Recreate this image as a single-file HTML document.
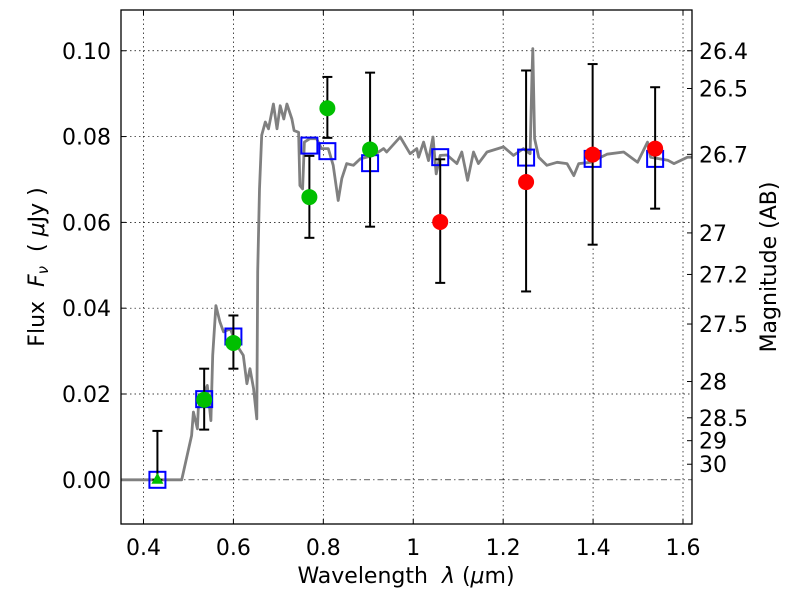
<!DOCTYPE html>
<html><head><meta charset="utf-8"><style>
body{margin:0;background:#fff}
svg{display:block;font-family:"DejaVu Sans","Liberation Sans",sans-serif}
text{white-space:pre}
</style></head><body>
<svg id="chart" width="800" height="600" viewBox="0 0 800 600" xmlns="http://www.w3.org/2000/svg"></svg>
<script>
const xTicks=[0.4,0.6,0.8,1.0,1.2,1.4,1.6];
const xTickLabels=["0.4","0.6","0.8","1","1.2","1.4","1.6"];
const yTicks=[0,0.02,0.04,0.06,0.08,0.10];
const yTickLabels=["0.00","0.02","0.04","0.06","0.08","0.10"];
const magTicks=[26.4,26.5,26.7,27,27.2,27.5,28,28.5,29,30];
const magLabels=["26.4","26.5","26.7","27","27.2","27.5","28","28.5","29","30"];
const specLam=[0.35,0.485,0.507,0.511,0.520,0.522,0.532,0.542,0.550,0.554,0.561,0.570,0.578,0.593,0.608,0.622,0.630,0.637,0.645,0.652,0.654,0.658,0.663,0.671,0.678,0.689,0.697,0.704,0.712,0.719,0.730,0.735,0.745,0.748,0.754,0.758,0.770,0.785,0.796,0.811,0.822,0.833,0.841,0.852,0.867,0.882,0.911,0.934,0.941,0.971,0.993,1.008,1.012,1.023,1.034,1.044,1.051,1.060,1.075,1.097,1.108,1.121,1.134,1.145,1.164,1.201,1.223,1.245,1.260,1.264,1.266,1.270,1.279,1.297,1.320,1.342,1.357,1.368,1.394,1.431,1.468,1.499,1.521,1.528,1.566,1.580,1.610,1.62];
const specFlux=[0,0,0.0103,0.0158,0.0119,0.0166,0.0197,0.022,0.0138,0.029,0.0406,0.0368,0.0345,0.0352,0.0313,0.029,0.0224,0.0259,0.0212,0.0142,0.0485,0.0678,0.0803,0.0834,0.0818,0.0876,0.0818,0.0872,0.0841,0.0876,0.0841,0.0814,0.081,0.0686,0.0678,0.0787,0.0795,0.0795,0.0772,0.0772,0.0733,0.0651,0.0702,0.0737,0.0733,0.0748,0.0756,0.0772,0.0764,0.0799,0.076,0.0772,0.0752,0.0787,0.0744,0.0799,0.0713,0.0756,0.0757,0.0737,0.0764,0.0698,0.0764,0.0737,0.0764,0.0776,0.0756,0.0772,0.076,0.0935,0.1005,0.0795,0.0752,0.0733,0.074,0.0737,0.0709,0.0737,0.074,0.0759,0.0764,0.074,0.0787,0.0752,0.0745,0.0737,0.0752,0.0752];
const obsLam=[0.431,0.535,0.600,0.769,0.809,0.904,1.060,1.251,1.399,1.538];
const obsFlux=[0,0.01865,0.0319,0.0659,0.0866,0.0770,0.0601,0.0694,0.0758,0.0772];
const errHigh=[0.0114,0.0259,0.0383,0.0755,0.0939,0.0949,0.0747,0.0954,0.0969,0.0915];
const errLow=[0,0.0117,0.0259,0.0564,0.0797,0.0590,0.0459,0.0439,0.0548,0.0632];
const obsColor=["green","green","green","green","green","green","red","red","red","red"];
const modelFlux=[0,0.0188,0.0334,0.0779,0.0766,0.0738,0.0752,0.0751,0.0748,0.0748];

const L=121,R=692,T=10,B=524,X0=0.35,X1=1.62,Y0=-0.0103,Y1=0.1095;
const sx=v=>L+(v-X0)/(X1-X0)*(R-L);
const sy=v=>B-(v-Y0)/(Y1-Y0)*(B-T);
const svg=document.getElementById('chart');const NS="http://www.w3.org/2000/svg";
function mk(t,a,p){const e=document.createElementNS(NS,t);for(const k in a)e.setAttribute(k,a[k]);(p||svg).appendChild(e);return e;}
xTicks.forEach((v,i)=>{const g=mk('line',{x1:sx(v),x2:sx(v),y1:T,y2:B,stroke:'#000','stroke-width':0.7,'stroke-dasharray':'1.5,3'});


mk('line',{x1:sx(v),x2:sx(v),y1:B,y2:B-5,stroke:'#000'});mk('line',{x1:sx(v),x2:sx(v),y1:T,y2:T+5,stroke:'#000'});
const t=mk('text',{x:sx(v),y:555,'font-size':22,'text-anchor':'middle'});t.textContent=xTickLabels[i];

});
yTicks.forEach((v,i)=>{const g=mk('line',{x1:L,x2:R,y1:sy(v),y2:sy(v),stroke:'#000','stroke-width':0.7,'stroke-dasharray':v===0?'6,3,1.5,3':'1.5,3'});


mk('line',{x1:L,x2:L+5,y1:sy(v),y2:sy(v),stroke:'#000'});
const t=mk('text',{x:111,y:sy(v)+8,'font-size':22,'text-anchor':'end'});t.textContent=yTickLabels[i];

});
magTicks.forEach((m,i)=>{const f=Math.pow(10,(23.9-m)/2.5);const y=sy(f);
mk('line',{x1:R-5,x2:R,y1:y,y2:y,stroke:'#000'});
const t=mk('text',{x:699,y:y+8,'font-size':22});t.textContent=magLabels[i];

});
let d=specLam.map((l,i)=>(i?'L':'M')+sx(l).toFixed(1)+','+sy(specFlux[i]).toFixed(1)).join('');
const sp=mk('path',{d:d,fill:'none',stroke:'#808080','stroke-width':2.8,'stroke-linejoin':'round'});


obsLam.forEach((l,i)=>{const r=mk('rect',{x:sx(l)-8,y:sy(modelFlux[i])-8,width:16,height:16,fill:'none',stroke:'#0000ff','stroke-width':2});

});
obsLam.forEach((l,i)=>{const x=sx(l);
mk('line',{x1:x,x2:x,y1:sy(errHigh[i]),y2:sy(errLow[i]),stroke:'#000','stroke-width':2});
mk('line',{x1:x-5,x2:x+5,y1:sy(errHigh[i]),y2:sy(errHigh[i]),stroke:'#000','stroke-width':2});
mk('line',{x1:x-5,x2:x+5,y1:sy(errLow[i]),y2:sy(errLow[i]),stroke:'#000','stroke-width':2});
const col=obsColor[i]==='red'?'#ff0000':'#00bf00';let m;
if(i===0){const y=sy(obsFlux[i]);m=mk('polygon',{points:`${x-6},${y+4} ${x+6},${y+4} ${x},${y-7}`,fill:col});}
else m=mk('circle',{cx:x,cy:sy(obsFlux[i]),r:8,fill:col});

});
const fr=mk('rect',{x:L,y:T,width:R-L,height:B-T,fill:'none',stroke:'#000','stroke-width':1.3});


</script>
<svg style="position:absolute;left:0;top:0" width="800" height="600">
<text x="406" y="583" font-size="22" text-anchor="middle" font-family="DejaVu Sans,Liberation Sans,sans-serif">Wavelength  <tspan font-style="italic">λ</tspan> (<tspan font-style="italic">μ</tspan>m)</text>
<text transform="translate(44,267) rotate(-90)" font-size="22" text-anchor="middle" font-family="DejaVu Sans,Liberation Sans,sans-serif">Flux  <tspan font-style="italic">F</tspan><tspan font-style="italic" font-size="15" dy="4">ν</tspan><tspan dy="-4">  ( </tspan><tspan font-style="italic">μ</tspan>Jy )</text>
<text transform="translate(776,267) rotate(-90)" font-size="22" text-anchor="middle" font-family="DejaVu Sans,Liberation Sans,sans-serif">Magnitude (AB)</text>
</svg>
</body></html>
